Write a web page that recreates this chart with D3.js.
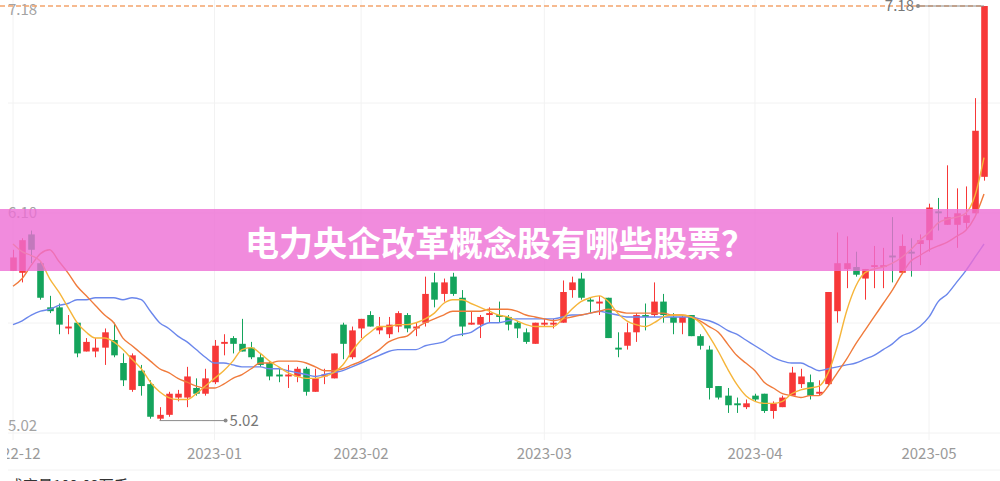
<!DOCTYPE html>
<html><head><meta charset="utf-8">
<script src="https://cdn.jsdelivr.net/npm/d3@7"></script>
<style>html,body{margin:0;padding:0;background:#fff;overflow:hidden}</style>
</head><body><svg id="c" width="1000" height="481"></svg>
<script>
const titleText = "电力央企改革概念股有哪些股票？";
const volumeText = "成交量102.03万手";
const monthLabels = ["2022-12","2023-01","2023-02","2023-03","2023-04","2023-05"];
const monthStartIndex = [0,22,38,58,81,100];

const openP = [5.80,5.79,5.99,5.84,5.61,5.61,5.50,5.53,5.38,5.38,
5.40,5.44,5.32,5.18,5.28,5.21,5.03,5.05,5.14,5.14,
5.19,5.16,5.22,5.42,5.45,5.42,5.40,5.35,5.32,5.26,
5.25,5.25,5.29,5.17,5.25,5.24,5.52,5.35,5.50,5.57,
5.49,5.47,5.51,5.57,5.50,5.53,5.74,5.68,5.77,5.66,
5.52,5.52,5.57,5.57,5.56,5.53,5.48,5.42,5.52,5.52,
5.53,5.70,5.76,5.65,5.63,5.66,5.40,5.41,5.48,5.57,
5.57,5.64,5.56,5.53,5.57,5.46,5.39,5.20,5.15,5.11,
5.09,5.15,5.16,5.07,5.09,5.15,5.21,5.22,5.16,5.21,
5.59,5.81,5.82,5.76,5.82,5.82,5.88,5.79,5.90,5.94,
5.96,6.11,6.04,6.04,6.05,6.10,6.29];
const highP = [5.91,5.97,6.01,5.85,5.67,5.63,5.57,5.53,5.45,5.45,
5.50,5.53,5.37,5.37,5.31,5.23,5.09,5.17,5.18,5.30,
5.24,5.29,5.44,5.47,5.46,5.55,5.43,5.37,5.33,5.29,
5.31,5.30,5.30,5.29,5.29,5.37,5.53,5.51,5.55,5.59,
5.56,5.56,5.59,5.58,5.53,5.77,5.79,5.76,5.79,5.70,
5.59,5.57,5.61,5.64,5.57,5.54,5.50,5.53,5.55,5.55,
5.75,5.77,5.79,5.66,5.67,5.66,5.48,5.53,5.58,5.63,
5.74,5.68,5.58,5.57,5.57,5.47,5.41,5.20,5.19,5.14,
5.13,5.16,5.16,5.12,5.15,5.30,5.29,5.26,5.23,5.69,
6.00,5.98,5.90,5.81,5.93,5.92,6.08,5.99,5.97,5.99,
6.15,6.18,6.35,6.23,6.24,6.70,7.18];
const lowP = [5.80,5.74,5.84,5.65,5.58,5.47,5.47,5.35,5.38,5.35,
5.31,5.35,5.20,5.17,5.15,5.03,5.02,5.04,5.12,5.09,
5.15,5.15,5.21,5.36,5.37,5.38,5.34,5.30,5.23,5.22,
5.19,5.22,5.15,5.17,5.21,5.24,5.34,5.34,5.45,5.51,
5.47,5.45,5.48,5.48,5.46,5.51,5.61,5.64,5.67,5.46,
5.52,5.45,5.53,5.53,5.49,5.45,5.42,5.42,5.51,5.50,
5.53,5.66,5.65,5.58,5.57,5.45,5.35,5.39,5.43,5.49,
5.56,5.53,5.47,5.47,5.46,5.39,5.13,5.13,5.06,5.06,
5.08,5.12,5.06,5.03,5.09,5.15,5.19,5.13,5.15,5.20,
5.53,5.71,5.77,5.65,5.71,5.71,5.74,5.79,5.77,5.83,
5.90,6.01,6.04,5.92,6.02,6.10,6.27];
const closeP = [5.87,5.96,5.91,5.66,5.59,5.52,5.51,5.37,5.43,5.40,
5.48,5.36,5.23,5.36,5.20,5.04,5.05,5.16,5.16,5.25,
5.16,5.24,5.41,5.43,5.42,5.38,5.35,5.31,5.25,5.25,
5.26,5.29,5.17,5.24,5.26,5.37,5.42,5.49,5.55,5.51,
5.51,5.52,5.58,5.50,5.51,5.68,5.65,5.74,5.68,5.51,
5.53,5.56,5.58,5.56,5.52,5.50,5.43,5.53,5.53,5.53,
5.69,5.74,5.66,5.64,5.64,5.45,5.39,5.48,5.57,5.56,
5.64,5.57,5.53,5.56,5.46,5.41,5.19,5.14,5.10,5.10,
5.11,5.13,5.07,5.11,5.14,5.27,5.25,5.15,5.17,5.69,
5.84,5.84,5.78,5.81,5.83,5.83,5.87,5.93,5.89,5.96,
6.13,6.10,6.08,6.10,6.09,6.53,7.18];
const ma5 = [5.94,5.90,5.88,5.85,5.76,5.69,5.61,5.53,5.48,5.45,
5.45,5.43,5.39,5.34,5.29,5.22,5.17,5.14,5.13,5.13,
5.16,5.20,5.24,5.28,5.33,5.39,5.40,5.37,5.33,5.30,
5.27,5.25,5.24,5.24,5.25,5.27,5.31,5.38,5.44,5.48,
5.51,5.51,5.52,5.52,5.53,5.55,5.58,5.63,5.65,5.65,
5.63,5.61,5.59,5.57,5.56,5.54,5.52,5.51,5.51,5.51,
5.55,5.60,5.64,5.66,5.67,5.64,5.58,5.54,5.52,5.51,
5.53,5.56,5.57,5.57,5.56,5.53,5.46,5.38,5.29,5.21,
5.15,5.12,5.11,5.11,5.12,5.16,5.18,5.19,5.20,5.27,
5.41,5.59,5.72,5.79,5.81,5.82,5.84,5.87,5.91,5.96,
6.00,6.05,6.07,6.08,6.10,6.19,6.39];
const ma10 = [5.72,5.76,5.83,5.89,5.91,5.85,5.79,5.72,5.67,5.62,
5.57,5.53,5.45,5.41,5.37,5.33,5.29,5.27,5.24,5.22,
5.20,5.19,5.19,5.21,5.24,5.26,5.29,5.32,5.32,5.33,
5.33,5.33,5.32,5.30,5.28,5.28,5.29,5.31,5.33,5.36,
5.39,5.43,5.45,5.46,5.50,5.53,5.55,5.57,5.59,5.59,
5.59,5.59,5.60,5.60,5.60,5.59,5.57,5.56,5.55,5.54,
5.55,5.56,5.57,5.58,5.59,5.60,5.59,5.58,5.58,5.58,
5.58,5.58,5.57,5.57,5.56,5.54,5.51,5.48,5.42,5.36,
5.32,5.28,5.22,5.19,5.16,5.15,5.14,5.15,5.15,5.20,
5.27,5.34,5.42,5.49,5.56,5.63,5.70,5.78,5.85,5.88,
5.91,5.93,5.95,5.98,6.01,6.08,6.20];
const ma20 = [5.52,5.54,5.57,5.59,5.60,5.62,5.63,5.65,5.65,5.66,
5.66,5.66,5.65,5.66,5.65,5.59,5.53,5.50,5.46,5.43,
5.39,5.35,5.32,5.32,5.31,5.30,5.30,5.30,5.29,5.29,
5.28,5.27,5.26,5.25,5.26,5.27,5.28,5.30,5.32,5.34,
5.36,5.38,5.39,5.39,5.39,5.41,5.42,5.43,5.46,5.47,
5.48,5.51,5.53,5.53,5.54,5.55,5.55,5.55,5.55,5.55,
5.56,5.57,5.57,5.58,5.59,5.58,5.57,5.56,5.56,5.56,
5.56,5.56,5.56,5.56,5.56,5.55,5.54,5.52,5.49,5.47,
5.44,5.41,5.38,5.35,5.33,5.32,5.32,5.30,5.28,5.29,
5.30,5.31,5.32,5.34,5.36,5.39,5.42,5.46,5.48,5.51,
5.56,5.64,5.68,5.74,5.80,5.87,5.94];

const svg = d3.select("#c");
const n = closeP.length;
const x = d3.scaleLinear().domain([0, n - 1]).range([13, 984]);
const yMin = d3.min(lowP), yMax = d3.max(highP);
const y = d3.scaleLinear().domain([yMin, yMax]).range([420.6, 6]);
const font = "'Noto Sans CJK SC','Noto Sans',sans-serif";
const RED = "#f73838", GREEN = "#14a45c";

svg.append("defs").append("clipPath").attr("id", "clipL")
  .append("rect").attr("x", 7).attr("y", 0).attr("width", 993).attr("height", 481);

// grid
const gridY = [103, 213, 323, 433, 470];
svg.append("g").selectAll("line").data(gridY).join("line")
  .attr("x1", 8).attr("x2", 1000).attr("y1", d => d).attr("y2", d => d)
  .attr("stroke", "#f2f2f2").attr("stroke-width", 1);
svg.append("g").selectAll("line").data(monthStartIndex).join("line")
  .attr("x1", d => x(d)).attr("x2", d => x(d)).attr("y1", 0).attr("y2", 440)
  .attr("stroke", "#f2f2f2").attr("stroke-width", 1);

// y labels
const yLab = svg.append("g").attr("font-family", font).attr("font-size", 15).attr("fill", "#a3a3a3");
const yLabVals = [yMax, (yMax + yMin) / 2, yMin];
const yLabOff = [9, 5, 10];
yLab.selectAll("text").data(yLabVals).join("text")
  .attr("x", 8).attr("y", (d, i) => y(d) + yLabOff[i]).text(d => d3.format(".2f")(d));

// x labels
svg.append("g").attr("clip-path", "url(#clipL)").attr("font-family", font).attr("font-size", 15).attr("fill", "#9a9a9a")
  .selectAll("text").data(monthLabels).join("text")
  .attr("x", (d, i) => x(monthStartIndex[i])).attr("y", 459).attr("text-anchor", "middle").text(d => d);

// candles
const idx = d3.range(n);
const col = i => closeP[i] >= openP[i] ? RED : GREEN;
const cg = svg.append("g");
cg.selectAll("line").data(idx).join("line")
  .attr("x1", i => Math.round(x(i)) + 0.5).attr("x2", i => Math.round(x(i)) + 0.5)
  .attr("y1", i => y(highP[i])).attr("y2", i => y(lowP[i]))
  .attr("stroke", col).attr("stroke-width", 1);
cg.selectAll("rect").data(idx).join("rect")
  .attr("x", i => Math.round(x(i)) + 0.5 - 3.3).attr("width", 6.6)
  .attr("y", i => y(Math.max(openP[i], closeP[i])))
  .attr("height", i => Math.max(1.5, Math.abs(y(openP[i]) - y(closeP[i]))))
  .attr("fill", col);

// MA lines
const lineGen = arr => d3.line().x((d, i) => x(i)).y(d => y(d)).curve(d3.curveMonotoneX)(arr);
[[ma20, "#6b87ec"], [ma10, "#f07b3c"], [ma5, "#f6b53a"]].forEach(([arr, c]) => {
  svg.append("path").attr("d", lineGen(arr)).attr("fill", "none").attr("stroke", c).attr("stroke-width", 1.4);
});

// last price dashed line
const last = closeP[n - 1];
svg.append("line").attr("x1", 0).attr("x2", x(n - 1)).attr("y1", y(last)).attr("y2", y(last))
  .attr("stroke", "#f4a46c").attr("stroke-width", 1.5).attr("stroke-dasharray", "5,3");

// min / max markers
const lo = d3.minIndex(lowP), hi = d3.maxIndex(highP);
const mk = svg.append("g").attr("font-family", font).attr("font-size", 15).attr("fill", "#777");
mk.append("line").attr("x1", x(lo)).attr("x2", x(lo) + 66).attr("y1", y(yMin)).attr("y2", y(yMin)).attr("stroke", "#8a8a8a");
mk.append("circle").attr("cx", x(lo) + 66).attr("cy", y(yMin)).attr("r", 2).attr("fill", "#8a8a8a");
mk.append("text").attr("x", x(lo) + 70).attr("y", y(yMin) + 5).text(d3.format(".2f")(yMin));
mk.append("line").attr("x1", x(hi)).attr("x2", x(hi) - 66).attr("y1", y(yMax)).attr("y2", y(yMax)).attr("stroke", "#8a8a8a");
mk.append("circle").attr("cx", x(hi) - 66).attr("cy", y(yMax)).attr("r", 2).attr("fill", "#8a8a8a");
mk.append("text").attr("x", x(hi) - 70).attr("y", y(yMax) + 5).attr("text-anchor", "end").text(d3.format(".2f")(yMax));

// volume caption (cut by bottom edge)
svg.append("text").attr("x", 8).attr("y", 491).attr("font-family", font).attr("font-size", 15)
  .attr("fill", "#333").text(volumeText);

// banner
svg.append("rect").attr("x", 0).attr("y", 209).attr("width", 1000).attr("height", 62)
  .attr("fill", "rgb(238,110,212)").attr("fill-opacity", 0.8);
svg.append("text").attr("x", 500).attr("y", 241).attr("text-anchor", "middle").attr("dominant-baseline", "central")
  .attr("font-family", font).attr("font-weight", 700).attr("font-size", 34).attr("fill", "#fff").text(titleText);
</script>
</body></html>
